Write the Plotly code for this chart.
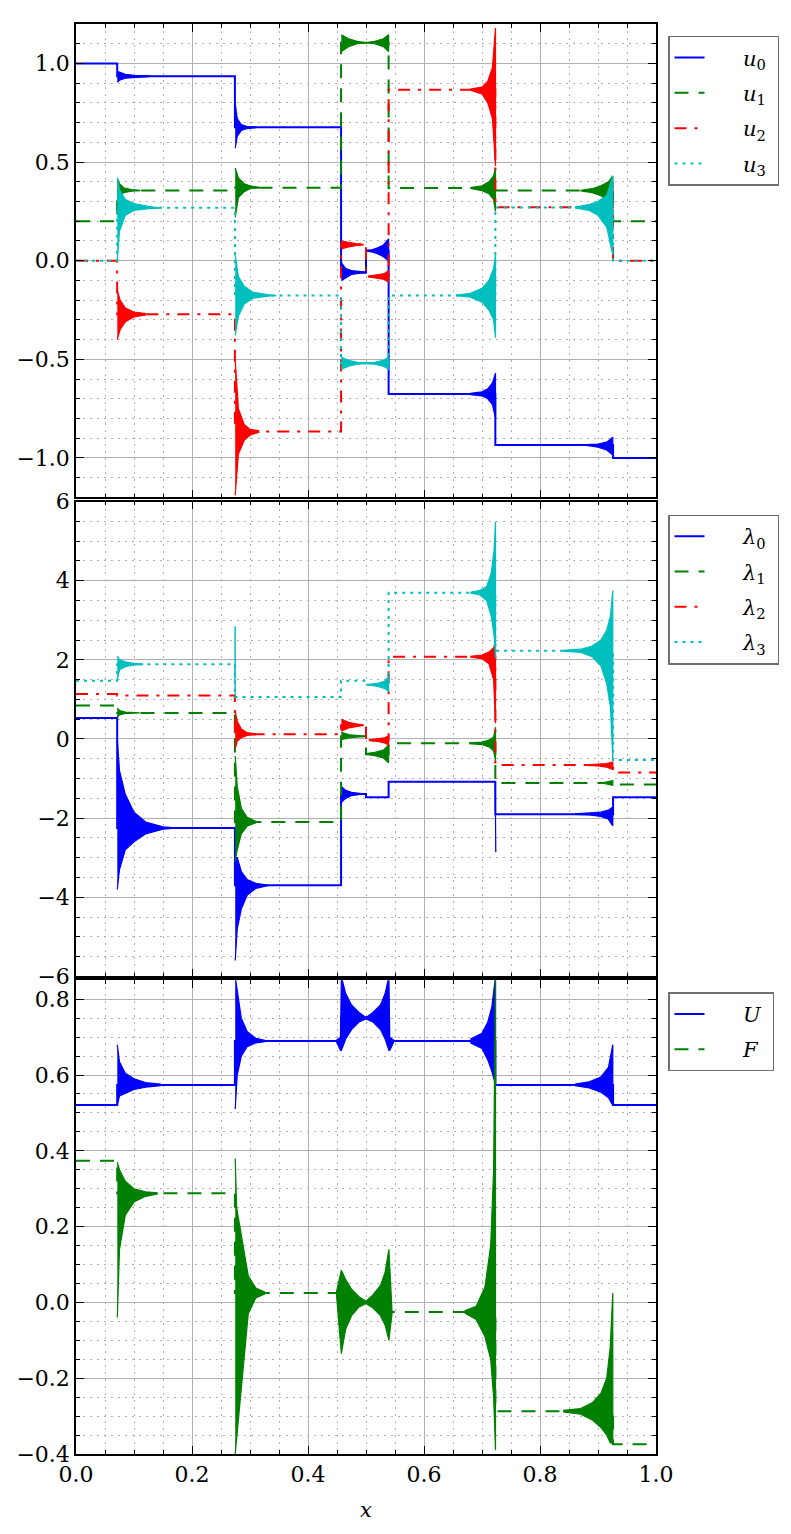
import plotly.graph_objects as go

# ---------------- data ----------------
EDGES = [0.0, 0.071, 0.274, 0.457, 0.500, 0.539, 0.723, 0.926, 1.0]

# panel 1 : u0..u3 (level of each piece between EDGES)
U0 = [1.0, 0.935, 0.676, -0.06, 0.05, -0.676, -0.935, -1.0]
U1 = [0.2, 0.356, 0.37, 1.105, 1.105, 0.368, 0.356, 0.2]
U2 = [0.0, -0.272, -0.866, 0.083, -0.08, 0.867, 0.271, 0.0]
U3 = [0.0, 0.268, -0.176, -0.52, -0.52, -0.176, 0.27, 0.0]

# panel 2 : lambda0..lambda3
L0 = [0.53, -2.25, -3.70, -1.39, -1.47, -1.08, -1.90, -1.47]
L1 = [0.85, 0.66, -2.10, 0.07, -0.38, -0.11, -1.11, -1.15]
L2 = [1.14, 1.10, 0.12, 0.35, -0.03, 2.08, -0.66, -0.85]
L3 = [1.47, 1.89, 1.06, 1.47, 1.37, 3.70, 2.23, -0.53]

# panel 3 : U and F
UU = [0.521, 0.574, 0.690, 0.752, 0.752, 0.690, 0.574, 0.521]
FF = [0.374, 0.288, 0.025, 0.0, 0.0, -0.025, -0.287, -0.374]

# oscillation envelopes near the jumps: (x, upper, lower)
U0_BURSTS = [
    ([0.0712, 0.075, 0.085, 0.10, 0.125], [0.96, 0.955, 0.945, 0.94, 0.937], [0.905, 0.915, 0.925, 0.93, 0.933]),
    ([0.2745, 0.278, 0.285, 0.295, 0.31], [0.80, 0.72, 0.69, 0.68, 0.678], [0.57, 0.63, 0.66, 0.67, 0.674]),
    ([0.4575, 0.465, 0.475, 0.49, 0.499], [-0.01, -0.04, -0.05, -0.057, -0.058], [-0.10, -0.085, -0.07, -0.063, -0.062]),
    ([0.50, 0.51, 0.52, 0.53, 0.539], [0.052, 0.055, 0.065, 0.08, 0.11], [0.048, 0.045, 0.035, 0.02, 0.0]),
    ([0.68, 0.70, 0.71, 0.718, 0.7233], [-0.673, -0.665, -0.65, -0.62, -0.57], [-0.679, -0.685, -0.70, -0.73, -0.80]),
    ([0.88, 0.90, 0.915, 0.9255], [-0.933, -0.93, -0.92, -0.895], [-0.937, -0.945, -0.96, -0.985]),
]
U1_BURSTS = [
    ([0.0712, 0.075, 0.082, 0.095, 0.11], [0.42, 0.39, 0.37, 0.36, 0.357], [0.30, 0.33, 0.345, 0.352, 0.355]),
    ([0.2745, 0.28, 0.29, 0.30, 0.315], [0.47, 0.42, 0.39, 0.38, 0.372], [0.22, 0.32, 0.35, 0.365, 0.369]),
    ([0.4575, 0.47, 0.485, 0.50], [1.145, 1.125, 1.112, 1.106], [1.06, 1.085, 1.10, 1.104]),
    ([0.50, 0.515, 0.53, 0.539], [1.106, 1.112, 1.125, 1.145], [1.104, 1.10, 1.085, 1.06]),
    ([0.68, 0.70, 0.712, 0.72, 0.7233], [0.37, 0.38, 0.40, 0.43, 0.47], [0.366, 0.355, 0.34, 0.31, 0.25]),
    ([0.87, 0.89, 0.905, 0.918, 0.9255], [0.357, 0.365, 0.38, 0.40, 0.43], [0.354, 0.345, 0.33, 0.30, 0.27]),
]
U2_BURSTS = [
    ([0.0712, 0.076, 0.085, 0.10, 0.12], [-0.15, -0.20, -0.24, -0.26, -0.268], [-0.40, -0.35, -0.31, -0.285, -0.275]),
    ([0.2745, 0.28, 0.29, 0.30, 0.315], [-0.50, -0.75, -0.83, -0.855, -0.862], [-1.19, -0.98, -0.91, -0.885, -0.87]),
    ([0.4575, 0.47, 0.485, 0.495], [0.10, 0.092, 0.085, 0.083], [0.06, 0.07, 0.077, 0.08]),
    ([0.505, 0.52, 0.532, 0.539], [-0.078, -0.072, -0.065, -0.05], [-0.082, -0.088, -0.095, -0.11]),
    ([0.68, 0.70, 0.71, 0.718, 0.7233], [0.87, 0.88, 0.91, 0.98, 1.18], [0.864, 0.845, 0.80, 0.72, 0.48]),
    ([0.87, 0.895, 0.91, 0.92, 0.9255], [0.273, 0.29, 0.31, 0.34, 0.40], [0.268, 0.25, 0.23, 0.20, 0.15]),
]
U3_BURSTS = [
    ([0.0712, 0.075, 0.085, 0.10, 0.125, 0.145], [0.42, 0.36, 0.31, 0.29, 0.275, 0.27], [0.0, 0.15, 0.23, 0.255, 0.264, 0.267]),
    ([0.2745, 0.28, 0.29, 0.305, 0.33, 0.345], [0.03, -0.08, -0.13, -0.16, -0.172, -0.175], [-0.38, -0.28, -0.22, -0.19, -0.18, -0.177]),
    ([0.4575, 0.47, 0.485, 0.50], [-0.49, -0.505, -0.515, -0.518], [-0.55, -0.535, -0.525, -0.522]),
    ([0.50, 0.515, 0.53, 0.539], [-0.518, -0.515, -0.505, -0.49], [-0.522, -0.525, -0.535, -0.55]),
    ([0.655, 0.68, 0.70, 0.712, 0.72, 0.7233], [-0.175, -0.165, -0.14, -0.10, -0.04, 0.03], [-0.177, -0.185, -0.21, -0.25, -0.30, -0.39]),
    ([0.86, 0.885, 0.90, 0.915, 0.9255], [0.272, 0.285, 0.30, 0.33, 0.43], [0.268, 0.255, 0.23, 0.17, 0.03]),
]

L0_BURSTS = [
    ([0.0712, 0.075, 0.085, 0.10, 0.12, 0.15, 0.17], [0.0, -0.8, -1.4, -1.85, -2.1, -2.22, -2.245], [-3.8, -3.3, -2.8, -2.6, -2.4, -2.28, -2.255]),
    ([0.2745, 0.278, 0.285, 0.295, 0.31, 0.33], [-3.0, -3.0, -3.35, -3.55, -3.65, -3.69], [-5.6, -4.8, -4.3, -3.95, -3.78, -3.71]),
    ([0.4575, 0.465, 0.475, 0.49, 0.499], [-1.2, -1.3, -1.35, -1.38, -1.385], [-1.6, -1.5, -1.43, -1.40, -1.395]),
    ([0.7228, 0.7238], [-1.08, -1.9], [-2.85, -2.85]),
    ([0.86, 0.885, 0.905, 0.918, 0.9255], [-1.895, -1.88, -1.85, -1.80, -1.72], [-1.905, -1.92, -1.96, -2.03, -2.20]),
]
L1_BURSTS = [
    ([0.0712, 0.075, 0.085, 0.10, 0.11], [0.78, 0.72, 0.68, 0.665, 0.662], [0.55, 0.61, 0.645, 0.655, 0.658]),
    ([0.2745, 0.278, 0.285, 0.295, 0.31], [-0.43, -1.2, -1.75, -1.98, -2.08], [-3.1, -2.8, -2.4, -2.2, -2.12]),
    ([0.4575, 0.47, 0.485, 0.498], [0.17, 0.11, 0.085, 0.075], [-0.02, 0.03, 0.055, 0.065]),
    ([0.50, 0.515, 0.53, 0.539], [-0.37, -0.34, -0.28, -0.15], [-0.39, -0.42, -0.48, -0.60]),
    ([0.68, 0.70, 0.712, 0.72, 0.7233], [-0.10, -0.08, -0.03, 0.05, 0.30], [-0.12, -0.14, -0.20, -0.30, -0.55]),
    ([0.91, 0.9255], [-1.10, -1.05], [-1.12, -1.17]),
]
L2_BURSTS = [
    ([0.2745, 0.278, 0.285, 0.295, 0.31], [0.70, 0.45, 0.25, 0.16, 0.13], [-0.25, -0.05, 0.03, 0.09, 0.11]),
    ([0.4575, 0.47, 0.485, 0.495], [0.50, 0.42, 0.38, 0.36], [0.20, 0.28, 0.32, 0.34]),
    ([0.505, 0.52, 0.532, 0.539], [-0.02, 0.0, 0.03, 0.08], [-0.04, -0.06, -0.10, -0.15]),
    ([0.68, 0.70, 0.712, 0.72, 0.7233], [2.09, 2.12, 2.20, 2.30, 2.50], [2.07, 2.03, 1.90, 1.50, 0.40]),
    ([0.88, 0.90, 0.915, 0.9255], [-0.655, -0.64, -0.62, -0.58], [-0.665, -0.68, -0.71, -0.77]),
]
L3_BURSTS = [
    ([0.0712, 0.075, 0.085, 0.10, 0.115], [2.10, 2.00, 1.95, 1.91, 1.895], [1.50, 1.75, 1.83, 1.87, 1.885]),
    ([0.2735, 0.2745], [2.84, 2.84], [1.89, 1.06]),
    ([0.505, 0.52, 0.532, 0.539], [1.38, 1.41, 1.46, 1.58], [1.36, 1.33, 1.28, 1.20]),
    ([0.68, 0.695, 0.708, 0.716, 0.721, 0.7233], [3.71, 3.75, 3.85, 4.20, 4.80, 5.50], [3.69, 3.65, 3.50, 3.10, 2.60, 2.05]),
    ([0.84, 0.87, 0.89, 0.905, 0.915, 0.9215, 0.9255], [2.24, 2.27, 2.35, 2.50, 2.75, 3.10, 3.75], [2.22, 2.19, 2.08, 1.85, 1.40, 0.80, -0.50]),
]

UU_BURSTS = [
    ([0.0712, 0.075, 0.085, 0.10, 0.12, 0.145], [0.68, 0.635, 0.605, 0.59, 0.58, 0.576], [0.52, 0.545, 0.552, 0.562, 0.568, 0.572]),
    ([0.2745, 0.278, 0.285, 0.295, 0.31, 0.325], [0.86, 0.82, 0.75, 0.715, 0.697, 0.692], [0.51, 0.60, 0.65, 0.675, 0.685, 0.688]),
    ([0.449, 0.456, 0.4575, 0.465, 0.475, 0.488, 0.50], [0.692, 0.70, 0.86, 0.815, 0.785, 0.765, 0.752], [0.688, 0.665, 0.665, 0.695, 0.72, 0.74, 0.748]),
    ([0.50, 0.512, 0.525, 0.533, 0.5395, 0.541, 0.548], [0.752, 0.765, 0.785, 0.815, 0.86, 0.70, 0.692], [0.748, 0.74, 0.72, 0.695, 0.665, 0.665, 0.688]),
    ([0.68, 0.70, 0.71, 0.717, 0.7233], [0.695, 0.71, 0.74, 0.78, 0.86], [0.685, 0.67, 0.64, 0.61, 0.574]),
    ([0.86, 0.885, 0.905, 0.918, 0.9255], [0.576, 0.582, 0.595, 0.62, 0.68], [0.572, 0.566, 0.555, 0.54, 0.52]),
]
FF_BURSTS = [
    ([0.0712, 0.075, 0.085, 0.10, 0.12, 0.14], [0.37, 0.35, 0.32, 0.30, 0.292, 0.289], [-0.04, 0.14, 0.23, 0.265, 0.28, 0.286]),
    ([0.2745, 0.277, 0.287, 0.297, 0.31, 0.325], [0.38, 0.25, 0.16, 0.07, 0.038, 0.028], [-0.40, -0.35, -0.20, -0.03, 0.012, 0.022]),
    ([0.449, 0.4575, 0.465, 0.475, 0.488, 0.50], [0.027, 0.085, 0.06, 0.035, 0.015, 0.003], [0.023, -0.135, -0.07, -0.035, -0.012, -0.003]),
    ([0.50, 0.512, 0.525, 0.533, 0.5395, 0.545], [0.003, 0.02, 0.045, 0.08, 0.14, -0.022], [-0.003, -0.015, -0.035, -0.06, -0.10, -0.028]),
    ([0.67, 0.69, 0.705, 0.715, 0.72, 0.7233], [-0.022, -0.01, 0.04, 0.15, 0.35, 0.86], [-0.028, -0.045, -0.09, -0.15, -0.25, -0.39]),
    ([0.84, 0.87, 0.89, 0.905, 0.915, 0.921, 0.9255], [-0.285, -0.28, -0.265, -0.24, -0.20, -0.12, 0.025], [-0.289, -0.295, -0.31, -0.33, -0.35, -0.37, -0.372]),
]

LABELS_U = ["<i>u</i><sub>0</sub>", "<i>u</i><sub>1</sub>", "<i>u</i><sub>2</sub>", "<i>u</i><sub>3</sub>"]
LABELS_L = ["<i>λ</i><sub>0</sub>", "<i>λ</i><sub>1</sub>", "<i>λ</i><sub>2</sub>", "<i>λ</i><sub>3</sub>"]
LABELS_UF = ["<i>U</i>", "<i>F</i>"]
X_TICKS = [0.0, 0.2, 0.4, 0.6, 0.8, 1.0]

# ---------------- styling ----------------
BLUE, GREEN, RED, CYAN = "#0000ff", "#008000", "#ff0000", "#00bfbf"
DASH = {"solid": "solid", "dash": "14px,10px", "dashdot": "12px,8px,3px,8px", "dot": "3px,5px"}
FONT = "DejaVu Serif"
PAD = "\u00a0" * 5
TRAIL = "\u00a0"

fig = go.Figure()


def add_series(levels, bursts, name, color, dash, row, legend, group):
    xa = "x" if row == 1 else f"x{row}"
    ya = "y" if row == 1 else f"y{row}"
    fig.add_trace(go.Scatter(
        x=EDGES, y=levels + [levels[-1]], mode="lines", line_shape="hv",
        line=dict(color=color, width=2, dash=DASH[dash]),
        name=PAD + name + TRAIL, legend=legend, legendgroup=group, xaxis=xa, yaxis=ya,
        hoverinfo="skip"))
    for xs, hi, lo in bursts:
        fig.add_trace(go.Scatter(
            x=list(xs) + list(xs)[::-1], y=list(hi) + list(lo)[::-1],
            mode="lines", fill="toself", fillcolor=color,
            line=dict(color=color, width=1.2), showlegend=False,
            legendgroup=group, xaxis=xa, yaxis=ya, hoverinfo="skip"))


add_series(U0, U0_BURSTS, LABELS_U[0], BLUE, "solid", 1, "legend", "u0")
add_series(U1, U1_BURSTS, LABELS_U[1], GREEN, "dash", 1, "legend", "u1")
add_series(U2, U2_BURSTS, LABELS_U[2], RED, "dashdot", 1, "legend", "u2")
add_series(U3, U3_BURSTS, LABELS_U[3], CYAN, "dot", 1, "legend", "u3")

add_series(L0, L0_BURSTS, LABELS_L[0], BLUE, "solid", 2, "legend2", "l0")
add_series(L1, L1_BURSTS, LABELS_L[1], GREEN, "dash", 2, "legend2", "l1")
add_series(L2, L2_BURSTS, LABELS_L[2], RED, "dashdot", 2, "legend2", "l2")
add_series(L3, L3_BURSTS, LABELS_L[3], CYAN, "dot", 2, "legend2", "l3")

add_series(UU, UU_BURSTS, LABELS_UF[0], BLUE, "solid", 3, "legend3", "U")
add_series(FF, FF_BURSTS, LABELS_UF[1], GREEN, "dash", 3, "legend3", "F")

TOT = 1440.0
axis_common = dict(
    showline=True, linecolor="black", linewidth=1.5, mirror="ticks",
    ticks="inside", ticklen=8, tickwidth=1.3, tickcolor="black",
    showgrid=True, gridcolor="#b0b0b0", gridwidth=1, zeroline=False,
    tickfont=dict(family=FONT, size=22, color="black"),
)


def minor(dt):
    return dict(dtick=dt, showgrid=True, gridcolor="#b0b0b0", gridwidth=1,
                griddash="2px,5px", ticks="inside", ticklen=4, tickcolor="black", tickwidth=1)


layout = dict(
    width=791, height=1534, paper_bgcolor="white", plot_bgcolor="white",
    margin=dict(l=76, r=135, t=14, b=80),
    font=dict(family=FONT, color="black"),
)
doms = {1: [(1454 - 490.7) / TOT, 1.0],
        2: [(1454 - 973) / TOT, (1454 - 495) / TOT],
        3: [0.0, 477 / TOT]}
yranges = {1: [-1.2, 1.2], 2: [-6, 6], 3: [-0.4, 0.85]}
ydt = {1: 0.5, 2: 2, 3: 0.2}
ymin = {1: 0.1, 2: 0.5, 3: 0.05}
yfmt = {1: ".1f", 2: "d", 3: ".1f"}
for r in (1, 2, 3):
    xk = "xaxis" if r == 1 else f"xaxis{r}"
    yk = "yaxis" if r == 1 else f"yaxis{r}"
    ya = "y" if r == 1 else f"y{r}"
    layout[xk] = dict(axis_common, range=[0, 1], anchor=ya, domain=[0, 1],
                      tickvals=X_TICKS, tickformat=".1f", minor=minor(0.05),
                      showticklabels=(r == 3))
    layout[yk] = dict(axis_common, range=yranges[r], domain=doms[r],
                      anchor="x" if r == 1 else f"x{r}",
                      tick0=0, dtick=ydt[r], tickformat=yfmt[r], minor=minor(ymin[r]))
layout["xaxis3"]["title"] = dict(text="<i>x</i>", font=dict(family=FONT, size=21), standoff=16)

leg_common = dict(xanchor="left", yanchor="top", x=(668 - 76) / 580.0,
                  bgcolor="white", bordercolor="#707070", borderwidth=1.5,
                  font=dict(family=FONT, size=21, color="black"), tracegroupgap=5)
layout["legend"] = dict(leg_common, y=(1454 - 26) / TOT)
layout["legend2"] = dict(leg_common, y=(1454 - 508) / TOT)
layout["legend3"] = dict(leg_common, y=(1454 - 989) / TOT)

fig.update_layout(**layout)
fig.write_html("out.html")
